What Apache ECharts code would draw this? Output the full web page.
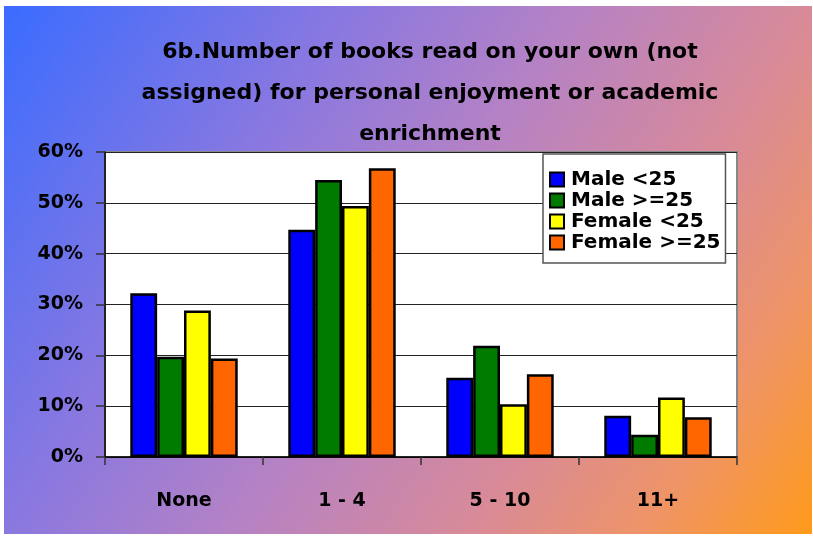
<!DOCTYPE html>
<html><head><meta charset="utf-8">
<script src="https://cdn.jsdelivr.net/npm/echarts@6/dist/echarts.min.js"></script>
<style>html,body{margin:0;padding:0;background:#fff}#c{width:813px;height:537px}</style>
</head><body><div id="c"></div>
<script>
const categories = ['None', '1 - 4', '5 - 10', '11+'];
const maleUnder25 = [32.2, 44.7, 15.6, 8.1];
const maleOver25 = [19.7, 54.5, 21.9, 4.4];
const femaleUnder25 = [28.8, 49.4, 10.4, 11.7];
const femaleOver25 = [19.4, 56.8, 16.3, 7.8];
const seriesNames = ['Male <25', 'Male >=25', 'Female <25', 'Female >=25'];
const seriesColors = ['#0000ff', '#007b00', '#ffff00', '#ff6600'];
const seriesData = [maleUnder25, maleOver25, femaleUnder25, femaleOver25];
const titleText = '6b.Number of books read on your own (not\nassigned) for personal enjoyment or academic\nenrichment';

const FONT = '"DejaVu Sans", sans-serif';
const chart = echarts.init(document.getElementById('c'));
chart.setOption({
  backgroundColor: '#ffffff',
  animation: false,
  graphic: [{
    type: 'rect', z: -10, silent: true,
    shape: { x: 4, y: 6, width: 808, height: 528 },
    style: { fill: new echarts.graphic.LinearGradient(0, 0, 1, 1, [
      { offset: 0, color: '#3a6cff' },
      { offset: 0.3, color: '#8a78e0' },
      { offset: 0.5, color: '#b682c4' },
      { offset: 0.7, color: '#d88a98' },
      { offset: 0.85, color: '#ee9468' },
      { offset: 1, color: '#ff9a1a' }
    ]) }
  }],
  title: {
    text: titleText, left: 425, top: 27, textAlign: 'center',
    textStyle: { fontFamily: FONT, fontWeight: 'bold', fontSize: 22, lineHeight: 41, color: '#000' }
  },
  legend: {
    orient: 'vertical', left: 543, top: 154,
    itemWidth: 14, itemHeight: 14, itemGap: 0,
    padding: [15, 5, 10, 6],
    backgroundColor: '#fff', borderColor: '#555', borderWidth: 1.5, borderRadius: 0,
    textStyle: { fontFamily: FONT, fontWeight: 'bold', fontSize: 20, lineHeight: 21, color: '#000', padding: [0, 0, 0, 2] },
    itemStyle: { borderColor: '#000', borderWidth: 2 },
    data: seriesNames.map(n => ({ name: n, icon: 'rect' }))
  },
  grid: { left: 105, top: 152, right: 76, bottom: 80, show: true, backgroundColor: '#fff', borderColor: '#888', borderWidth: 2 },
  xAxis: {
    type: 'category', data: categories,
    axisLine: { lineStyle: { color: '#000', width: 1.5 } },
    axisTick: { show: true, interval: 0, length: 8, lineStyle: { color: '#333', width: 1.5 } },
    axisLabel: { margin: 35, fontFamily: FONT, fontWeight: 'bold', fontSize: 19, color: '#000' }
  },
  yAxis: {
    type: 'value', min: 0, max: 60, interval: 10,
    axisLine: { show: true, lineStyle: { color: '#000', width: 1.5 } },
    axisTick: { show: true, length: 9, lineStyle: { color: '#333', width: 1.5 } },
    axisLabel: { margin: 22, formatter: '{value}%', fontFamily: FONT, fontWeight: 'bold', fontSize: 19, color: '#000' },
    splitLine: { lineStyle: { color: '#222', width: 1 } }
  },
  series: seriesNames.map((n, i) => ({
    name: n, type: 'bar', data: seriesData[i],
    barGap: '0%', barCategoryGap: '32%',
    itemStyle: { color: seriesColors[i], borderColor: '#000', borderWidth: 2.5 }
  }))
});
</script></body></html>
